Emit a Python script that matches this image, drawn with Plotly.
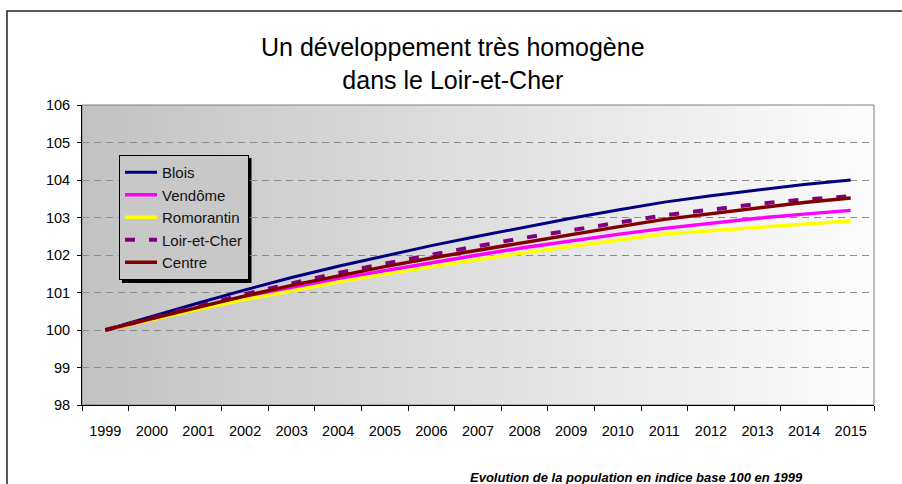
import plotly.graph_objects as go

# Population index, base 100 in 1999
years = [str(y) for y in range(1999, 2016)]
blois = [100.00, 100.37, 100.72, 101.07, 101.40, 101.70, 101.98, 102.25, 102.50,
         102.75, 102.98, 103.20, 103.41, 103.58, 103.74, 103.88, 104.00]
vendome = [100.00, 100.30, 100.58, 100.86, 101.12, 101.36, 101.58, 101.80, 102.00,
           102.20, 102.38, 102.55, 102.71, 102.85, 102.98, 103.09, 103.19]
romorantin = [100.00, 100.28, 100.55, 100.81, 101.05, 101.28, 101.49, 101.69, 101.88,
              102.06, 102.23, 102.40, 102.56, 102.65, 102.74, 102.83, 102.91]
loir_et_cher = [100.00, 100.33, 100.64, 100.96, 101.25, 101.52, 101.77, 102.01, 102.24,
                102.46, 102.67, 102.86, 103.06, 103.21, 103.36, 103.48, 103.57]
centre = [100.00, 100.31, 100.62, 100.91, 101.19, 101.45, 101.69, 101.92, 102.13,
          102.35, 102.55, 102.75, 102.95, 103.10, 103.26, 103.40, 103.52]
y_ticks = list(range(98, 107))

series = [
    ("Blois", blois, "#000080", 3, "solid"),
    ("Vendôme", vendome, "#FF00FF", 3.5, "solid"),
    ("Romorantin", romorantin, "#FFFF00", 3.5, "solid"),
    ("Loir-et-Cher", loir_et_cher, "#800080", 4, "10px,14px"),
    ("Centre", centre, "#800000", 3.5, "solid"),
]

# page geometry (pixels) and plot-area margins
W, H = 902, 484
ML, MR, MT, MB = 82, 28, 105, 79
PW, PH = W - ML - MR, H - MT - MB


def px(x):
    return (x - ML) / PW


def py(y):
    return (H - MB - y) / PH


FONT = "Arial, 'Liberation Sans', sans-serif"

fig = go.Figure()
for i, (name, vals, color, width, dash) in enumerate(series):
    fig.add_trace(go.Scatter(
        x=years, y=vals, name=name, mode="lines",
        line=dict(color=color, width=width, dash=dash),
        legendgroup=f"g{i}",
    ))

shapes = []
# horizontal grey gradient behind the plot area
n = 160
c0, c1 = 194, 252
for k in range(n):
    c = round(c0 + (c1 - c0) * k / (n - 1))
    shapes.append(dict(
        type="rect", xref="x domain", yref="y domain",
        x0=k / n, x1=(k + 1) / n + 0.002, y0=0, y1=1,
        fillcolor=f"rgb({c},{c},{c})", line=dict(width=0), layer="below",
    ))
# plot-area border (top / right in grey)
shapes.append(dict(type="rect", xref="paper", yref="paper", x0=0, x1=1, y0=0, y1=1,
                   line=dict(color="#808080", width=1), layer="below"))
# outer chart frame
shapes.append(dict(type="rect", xref="paper", yref="paper",
                   x0=px(7), x1=px(910), y0=py(495), y1=py(11),
                   line=dict(color="#222222", width=1.5), fillcolor="rgba(0,0,0,0)"))
# legend shadow
shapes.append(dict(type="rect", xref="paper", yref="paper",
                   x0=px(122), x1=px(251.5), y0=py(283), y1=py(158),
                   line=dict(width=0), fillcolor="black", layer="below"))

fig.update_layout(
    width=W, height=H,
    margin=dict(l=ML, r=MR, t=MT, b=MB, pad=0),
    paper_bgcolor="white", plot_bgcolor="white",
    font=dict(family=FONT, color="black", size=14.5),
    shapes=shapes,
    showlegend=True,
    legend=dict(
        x=px(119), y=py(155), xanchor="left", yanchor="top",
        bgcolor="rgb(200,200,200)", bordercolor="black", borderwidth=1,
        font=dict(family=FONT, size=15, color="#111111"),
        tracegroupgap=0, itemwidth=32,
    ),
    annotations=[
        dict(text="Un développement très homogène<br>dans le Loir-et-Cher",
             xref="paper", yref="paper", x=px(453), y=py(63),
             xanchor="center", yanchor="middle", showarrow=False,
             font=dict(family=FONT, size=25, color="black")),
        dict(text="<b><i>Evolution de la population en indice base 100 en 1999</i></b>",
             xref="paper", yref="paper", x=px(636), y=py(477),
             xanchor="center", yanchor="middle", showarrow=False,
             font=dict(family=FONT, size=13, color="black")),
    ],
)

fig.update_xaxes(
    type="category", range=[-0.5, 16.5],
    showline=True, linecolor="black", linewidth=1,
    ticks="outside", tickson="boundaries", ticklen=5, tickcolor="black",
    showgrid=False, zeroline=False, ticklabelstandoff=13,
    tickfont=dict(size=14.5),
)
fig.update_yaxes(
    range=[98, 106], tickvals=y_ticks,
    showline=True, linecolor="black", linewidth=1,
    ticks="outside", ticklen=4, tickcolor="black",
    showgrid=True, gridcolor="#8c8c8c", gridwidth=1, griddash="7px,5px",
    zeroline=False, ticklabelstandoff=4,
    tickfont=dict(size=14.5),
)

fig.write_html("out.html")
